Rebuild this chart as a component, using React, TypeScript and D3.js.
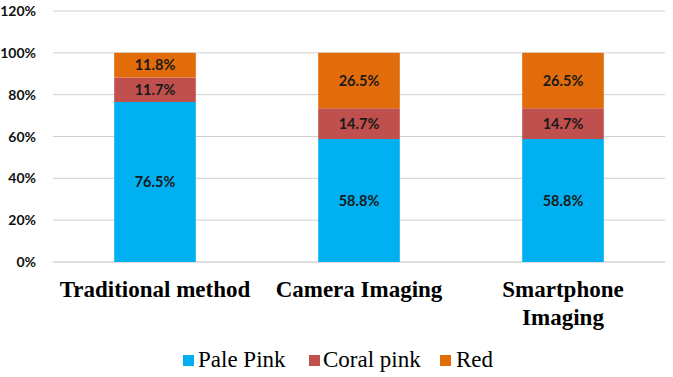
import React from 'react';
import * as d3 from 'd3';

const categories = ['Traditional method', 'Camera Imaging', 'Smartphone Imaging'];
const categoryLines = [['Traditional method'], ['Camera Imaging'], ['Smartphone', 'Imaging']];
const seriesNames = ['Pale Pink', 'Coral pink', 'Red'];
const seriesColors = ['#00B0F0', '#C0504D', '#E36C0A'];
const palePink = [76.5, 58.8, 58.8];
const coralPink = [11.7, 14.7, 14.7];
const red = [11.8, 26.5, 26.5];
const yTicks = [0, 20, 40, 60, 80, 100, 120];

const W = 673;
const H = 377;
const left = 53;
const right = 665;
const top = 11;
const bottom = 262;
const serif = "'Liberation Serif', 'Times New Roman', Times, serif";

export default function App() {
  // one row per category, stacked bottom to top
  const rows = categories.map((c, i) => ({
    cat: c,
    'Pale Pink': palePink[i],
    'Coral pink': coralPink[i],
    Red: red[i],
  }));
  const stacked = d3.stack<any>().keys(seriesNames)(rows);

  const x = d3.scaleBand().domain(categories).range([left, right]).paddingInner(0.6).paddingOuter(0.3);
  const y = d3.scaleLinear().domain([0, 120]).range([bottom, top]);

  const legendItems = [
    { name: seriesNames[0], sq: 183, tx: 198 },
    { name: seriesNames[1], sq: 309, tx: 323 },
    { name: seriesNames[2], sq: 440, tx: 456 },
  ];

  return (
    <svg width={W} height={H} style={{ position: 'absolute', left: 0, top: 0, background: '#fff' }}>
      {/* grid */}
      {yTicks.map(t => (
        <g key={t}>
          <line x1={left} x2={right} y1={y(t)} y2={y(t)} stroke={t === 0 ? '#bfbfbf' : '#d0d0d0'} strokeWidth={1} />
          <text x={36} y={y(t)} dy="0.36em" textAnchor="end" fontFamily="Lato" fontWeight="bold" fontSize={14} fill="#111">
            {t}%
          </text>
        </g>
      ))}

      {/* bars */}
      {stacked.map((layer, si) => (
        <g key={layer.key}>
          {layer.map((d, i) => {
            const x0 = x(categories[i]) as number;
            const y0 = y(d[1]);
            const y1 = y(d[0]);
            return (
              <g key={i}>
                <rect x={x0} y={y0} width={x.bandwidth()} height={y1 - y0} fill={seriesColors[si]} />
                <text x={x0 + x.bandwidth() / 2} y={(y0 + y1) / 2} dy="0.36em" textAnchor="middle"
                  fontFamily="Lato" fontWeight="bold" fontSize={14.5} fill="#1a1a1a">
                  {(d[1] - d[0]).toFixed(1)}%
                </text>
              </g>
            );
          })}
        </g>
      ))}

      {/* category labels */}
      {categoryLines.map((lines, i) => (
        <text key={i} textAnchor="middle" fontFamily={serif} fontWeight="bold" fontSize={23} fill="#000">
          {lines.map((l, j) => (
            <tspan key={j} x={(x(categories[i]) as number) + x.bandwidth() / 2} y={297 + j * 28}>{l}</tspan>
          ))}
        </text>
      ))}

      {/* legend */}
      {legendItems.map((it, i) => (
        <g key={it.name}>
          <rect x={it.sq} y={355} width={11} height={11} fill={seriesColors[i]} />
          <text x={it.tx} y={367} fontFamily={serif} fontSize={23} fill="#000">{it.name}</text>
        </g>
      ))}
    </svg>
  );
}
